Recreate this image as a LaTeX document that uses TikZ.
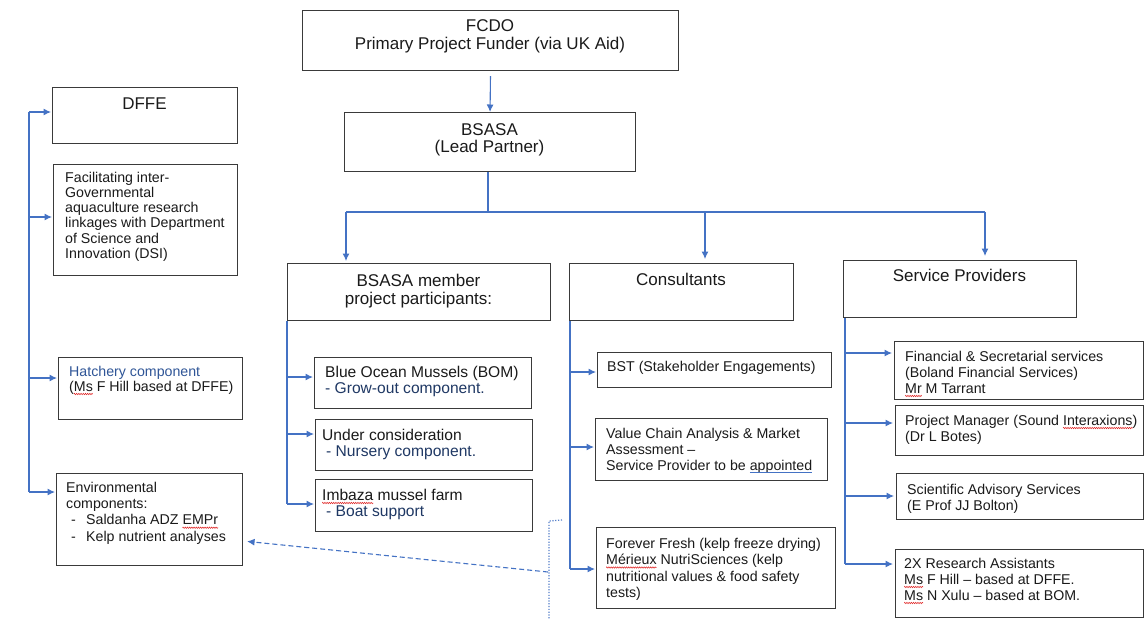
\documentclass[tikz,border=0pt]{standalone}
\usepackage{fontspec}
\setmainfont{Liberation Sans}
\usetikzlibrary{arrows.meta,decorations.pathmorphing}
\definecolor{conn}{HTML}{4472C4}
\definecolor{boxc}{HTML}{3A3A3A}
\definecolor{navy}{HTML}{1F3864}
\definecolor{hblue}{HTML}{2F5597}
\definecolor{txt}{HTML}{1A1A1A}
\definecolor{spell}{HTML}{E02020}
\newsavebox{\sqbox}
\newcommand\redsq[1]{\sbox{\sqbox}{#1}\leavevmode\rlap{\usebox{\sqbox}}\tikz[baseline=0pt]{\useasboundingbox (0pt,0pt) rectangle (\wd\sqbox,0pt);\draw[spell, line width=0.5pt, decorate, decoration={zigzag,amplitude=0.7pt,segment length=2.2pt}] (0pt,-3pt) -- (\wd\sqbox,-3pt);}}
\newcommand\bluesq[1]{\sbox{\sqbox}{#1}\leavevmode\rlap{\usebox{\sqbox}}\tikz[baseline=0pt]{\useasboundingbox (0pt,0pt) rectangle (\wd\sqbox,0pt);\draw[conn, line width=0.6pt] (0pt,-2.6pt) -- (\wd\sqbox,-2.6pt);}}
\begin{document}
\begin{tikzpicture}[x=1pt,y=-1pt,
  box/.style={draw=boxc, line width=1.1pt, inner sep=0pt, anchor=north west},
  ln/.style={draw=conn, line width=1.1pt},
  arr/.style={ln, -{Latex[length=7.5pt,width=7pt]}},
  dsh/.style={arr, dash pattern=on 5pt off 3pt},
  dtd/.style={draw=conn!90, line width=1.2pt, dash pattern=on 1.2pt off 1.6pt},
  lbl/.style={anchor=base west, inner sep=0pt, align=left, text=txt, font=\fontsize{14.2}{16}\selectfont},
  sub/.style={lbl, font=\fontsize{15.6}{16.5}\selectfont},
  head/.style={anchor=base, inner sep=0pt, align=center, text=txt, font=\fontsize{17}{18}\selectfont},
  top/.style={anchor=base, inner sep=0pt, align=center, text=txt, font=\fontsize{17}{17.2}\selectfont}
]
\fill[white] (0,0) rectangle (1144,619);
\useasboundingbox (0,0) rectangle (1144,619);

% boxes
\node[box, minimum width=376pt, minimum height=60pt] (fcdo) at (302,10) {};
\node[box, minimum width=291pt, minimum height=59pt] (bsasa) at (344,112) {};
\node[box, minimum width=185pt, minimum height=56pt] (dffe) at (52,87) {};
\node[box, minimum width=184pt, minimum height=111pt] (fac) at (53,164) {};
\node[box, minimum width=184pt, minimum height=62pt] (hatch) at (58,357) {};
\node[box, minimum width=186pt, minimum height=92pt] (env) at (56,473) {};
\node[box, minimum width=263pt, minimum height=57pt] (member) at (287,263) {};
\node[box, minimum width=217pt, minimum height=51pt] (bom) at (314,357) {};
\node[box, minimum width=217pt, minimum height=51pt] (under) at (315,419) {};
\node[box, minimum width=217pt, minimum height=52pt] (imbaza) at (315,479) {};
\node[box, minimum width=224pt, minimum height=57pt] (cons) at (569,263) {};
\node[box, minimum width=234pt, minimum height=35pt] (bst) at (597,352) {};
\node[box, minimum width=232pt, minimum height=62pt] (value) at (595,418) {};
\node[box, minimum width=239pt, minimum height=81pt] (forever) at (596,527) {};
\node[box, minimum width=233pt, minimum height=57pt] (serv) at (843,260) {};
\node[box, minimum width=249pt, minimum height=58pt] (fin) at (894,341) {};
\node[box, minimum width=248pt, minimum height=50pt] (pm) at (895,405) {};
\node[box, minimum width=247pt, minimum height=46pt] (sci) at (896,473) {};
\node[box, minimum width=248pt, minimum height=68pt] (ra) at (895,549) {};

% texts (base anchor = baseline of the last line)
\node[top] (tfcdo) at (490,49) {FCDO\\Primary Project Funder (via UK Aid)};
\node[top] (tbsasa) at (489.5,152.3) {BSASA\\(Lead Partner)};
\node[head] (tdffe) at (144.5,109) {DFFE};
\node[lbl, font=\fontsize{14.2}{15.3}\selectfont] (tfac) at (65,258.5) {Facilitating inter-\\Governmental\\aquaculture research\\linkages with Department\\of Science and\\Innovation (DSI)};
\node[lbl, font=\fontsize{14.2}{15}\selectfont] (thatch) at (69,391) {\textcolor{hblue}{Hatchery component}\\(\redsq{Ms} F Hill based at DFFE)};
\node[lbl, font=\fontsize{14.2}{16.3}\selectfont] (tenv) at (66,541) {Environmental\\components:\\\hspace*{5pt}-\hspace*{10.3pt}Saldanha ADZ \redsq{EMPr}\\\hspace*{5pt}-\hspace*{10.3pt}Kelp nutrient analyses};
\node[head] (tmember) at (418.5,304.5) {BSASA member\\project participants:};
\node[sub] (tbom) at (325,393.5) {Blue Ocean Mussels (BOM)\\\textcolor{navy}{- Grow-out component.}};
\node[sub] (tunder) at (322,456.5) {Under consideration\\\hspace*{4pt}\textcolor{navy}{- Nursery component.}};
\node[sub] (timbaza) at (322,516.5) {\redsq{Imbaza} mussel farm\\\hspace*{4pt}\textcolor{navy}{- Boat support}};
\node[head] (tcons) at (681,285) {Consultants};
\node[lbl] (tbst) at (607,371) {BST (Stakeholder Engagements)};
\node[lbl] (tvalue) at (606,470) {Value Chain Analysis \& Market\\Assessment –\\Service Provider to be \bluesq{appointed}};
\node[lbl, font=\fontsize{14.2}{16.5}\selectfont] (tforever) at (606,597.5) {Forever Fresh (kelp freeze drying)\\\redsq{Mérieux} NutriSciences (kelp\\nutritional values \& food safety\\tests)};
\node[head] (tserv) at (959.5,281) {Service Providers};
\node[lbl] (tfin) at (905,393) {Financial \& Secretarial services\\(Boland Financial Services)\\\redsq{Mr} M Tarrant};
\node[lbl] (tpm) at (905,441) {Project Manager (Sound \redsq{Interaxions})\\(Dr L Botes)};
\node[lbl] (tsci) at (907,510) {Scientific Advisory Services\\(E Prof JJ Bolton)};
\node[lbl] (tra) at (904,600) {2X Research Assistants\\\redsq{Ms} F Hill – based at DFFE.\\\redsq{Ms} N Xulu – based at BOM.};

% top connectors
\draw[arr, shorten <=5pt] (fcdo.south) -- (bsasa.north);
\coordinate (hub) at (488,212);
\coordinate (brL) at (346,212);
\coordinate (brM) at (705,212);
\coordinate (brR) at (985,212);
\draw[ln] (bsasa.south -| hub) -- (hub);
\draw[ln] (brL) -- (brR);
\draw[arr, shorten >=2pt] (brL) -- (brL |- member.north);
\draw[arr, shorten >=4pt] (brM) -- (brM |- cons.north);
\draw[arr, shorten >=4pt] (brR) -- (brR |- serv.north);

% left column
\coordinate (lvtop) at (29,112);
\coordinate (dffein) at ([yshift=-25pt]dffe.north west);
\coordinate (facin) at ([yshift=-53pt]fac.north west);
\coordinate (hatchin) at ([yshift=-21pt]hatch.north west);
\coordinate (envin) at ([yshift=-19pt]env.north west);
\draw[ln] (lvtop |- dffein) -- (lvtop |- envin);
\draw[arr, shorten >=1pt] (lvtop |- dffein) -- (dffein);
\draw[arr, shorten >=1pt] (lvtop |- facin) -- (facin);
\draw[arr, shorten >=1pt] (lvtop |- hatchin) -- (hatchin);
\draw[arr, shorten >=1pt] (lvtop |- envin) -- (envin);

% member column
\coordinate (bomin) at ([yshift=-20pt]bom.north west);
\coordinate (underin) at ([yshift=-15pt]under.north west);
\coordinate (imbazain) at ([yshift=-25pt]imbaza.north west);
\draw[ln] (member.south west) -- (member.south west |- imbazain);
\draw[arr, shorten >=1pt] (member.south west |- bomin) -- (bomin);
\draw[arr, shorten >=1pt] (member.south west |- underin) -- (underin);
\draw[arr, shorten >=1pt] (member.south west |- imbazain) -- (imbazain);

% consultants column
\coordinate (cv) at ([xshift=1pt]cons.south west);
\coordinate (bstin) at ([yshift=-20pt]bst.north west);
\coordinate (valuein) at ([yshift=-29pt]value.north west);
\coordinate (foreverin) at ([yshift=-42pt]forever.north west);
\draw[ln] (cv) -- (cv |- foreverin);
\draw[arr, shorten >=1pt] (cv |- bstin) -- (bstin);
\draw[arr, shorten >=1pt] (cv |- valuein) -- (valuein);
\draw[arr, shorten >=1pt] (cv |- foreverin) -- (foreverin);

% service providers column
\coordinate (sv) at ([xshift=2pt]serv.south west);
\coordinate (finin) at ([yshift=-12pt]fin.north west);
\coordinate (pmin) at ([yshift=-18pt]pm.north west);
\coordinate (sciin) at ([yshift=-23pt]sci.north west);
\coordinate (rain) at ([yshift=-15pt]ra.north west);
\draw[ln] (sv) -- (sv |- rain);
\draw[arr, shorten >=2pt] (sv |- finin) -- (finin);
\draw[arr, shorten >=2pt] (sv |- pmin) -- (pmin);
\draw[arr, shorten >=2pt] (sv |- sciin) -- (sciin);
\draw[arr, shorten >=2pt] (sv |- rain) -- (rain);

% dashed / dotted
\coordinate (dstart) at (548,572);
\coordinate (envdash) at ([yshift=-68pt]env.north east);
\draw[dsh, shorten >=4pt] (dstart) -- (envdash);
\coordinate (dstub) at (562,520);
\coordinate (dtop) at (549,521);
\coordinate (dbot) at (549,619);
\draw[dtd] (dstub) -- (dtop) -- (dbot);
\end{tikzpicture}
\end{document}
